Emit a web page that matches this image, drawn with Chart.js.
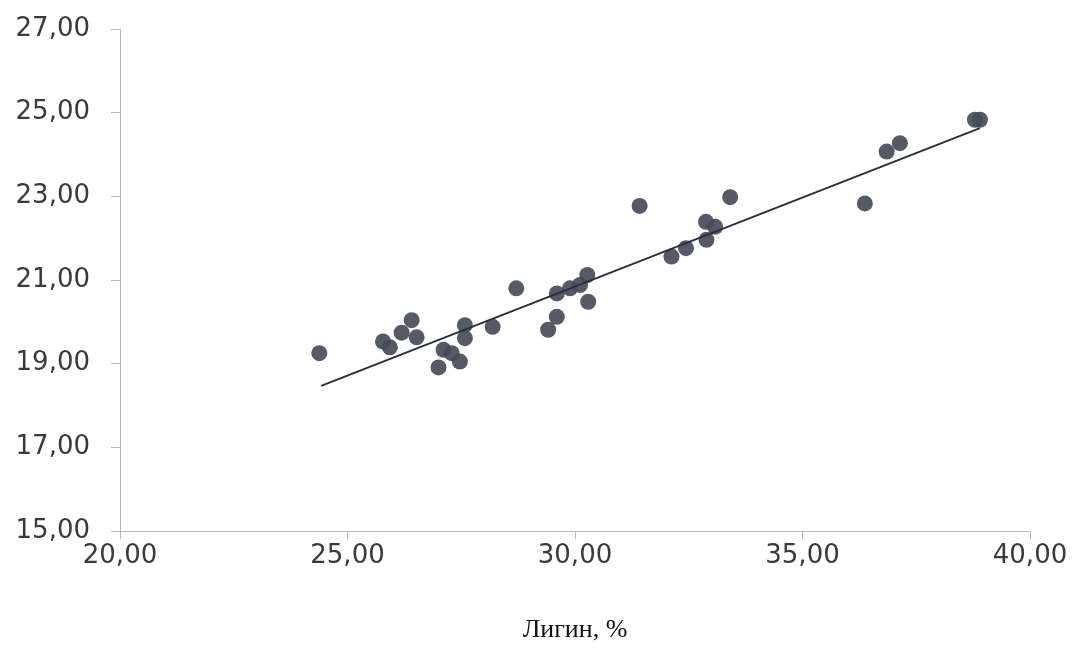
<!DOCTYPE html>
<html>
<head>
<meta charset="utf-8">
<script src="https://cdn.jsdelivr.net/npm/chart.js@4/dist/chart.umd.min.js"></script>
<style>
  html, body { margin: 0; padding: 0; background: #fff; }
  #wrap { width: 1072px; height: 654px; }
</style>
</head>
<body>
<div id="wrap"><canvas id="chart" width="1072" height="654"></canvas></div>
<script>
// values
const ligninX = [24.38, 25.78, 25.93, 26.19, 26.41, 26.52, 27.00, 27.11, 27.29, 27.47,
                 27.58, 27.58, 28.19, 28.71, 29.41, 29.60, 29.60, 29.89, 30.11, 30.27,
                 30.29, 31.42, 32.12, 32.44, 32.88, 32.89, 33.08, 33.41, 36.37, 36.85,
                 37.14, 38.79, 38.90];
const valueY  = [19.25, 19.53, 19.39, 19.74, 20.04, 19.63, 18.91, 19.33, 19.25, 19.05,
                 19.92, 19.61, 19.88, 20.80, 19.81, 20.12, 20.68, 20.80, 20.88, 21.12,
                 20.48, 22.77, 21.56, 21.76, 22.39, 21.96, 22.27, 22.98, 22.83, 24.07,
                 24.27, 24.83, 24.83];

const trendX = [24.42, 38.90];
const trendY = [18.47, 24.63];

const xTitle = "Лигин, %";

const fmt = v => v.toFixed(2).replace(".", ",");

const points = ligninX.map((x, i) => ({ x, y: valueY[i] }));
const trend = trendX.map((x, i) => ({ x, y: trendY[i] }));

const tickFont = { family: "DejaVu Sans", size: 26 };

new Chart(document.getElementById("chart"), {
    type: "scatter",
    data: {
        datasets: [
            {
                label: "points",
                data: points,
                pointRadius: 8,
                pointHoverRadius: 8,
                pointBackgroundColor: "rgba(72,76,90,0.92)",
                pointBorderColor: "rgba(72,76,90,0.92)",
                pointBorderWidth: 0,
                order: 2
            },
            {
                label: "trend",
                type: "line",
                data: trend,
                borderColor: "#2b2f38",
                borderWidth: 2,
                pointRadius: 0,
                fill: false,
                order: 1
            }
        ]
    },
    options: {
        responsive: false,
        animation: false,
        layout: { padding: { left: 0, top: 0, right: 42, bottom: 0 } },
        plugins: {
            legend: { display: false },
            tooltip: { enabled: false }
        },
        scales: {
            x: {
                type: "linear",
                min: 20, max: 40,
                border: { color: "#b8b8b8", width: 1 },
                grid: { drawOnChartArea: false, color: "#b8b8b8", tickLength: 8 },
                ticks: {
                    stepSize: 5,
                    color: "#3a3a3a",
                    font: tickFont,
                    padding: 2,
                    callback: v => fmt(v)
                },
                title: {
                    display: true,
                    text: xTitle,
                    color: "#111",
                    font: { family: "Liberation Serif", size: 26 },
                    padding: { top: 12, bottom: 8 }
                },
                afterFit: s => { s.height = 123; }
            },
            y: {
                type: "linear",
                min: 15, max: 27,
                border: { color: "#b8b8b8", width: 1 },
                grid: { drawOnChartArea: false, color: "#b8b8b8", tickLength: 9 },
                ticks: {
                    stepSize: 2,
                    color: "#3a3a3a",
                    font: tickFont,
                    padding: 21,
                    callback: v => fmt(v)
                },
                afterFit: s => { s.width = 120; s.paddingTop = 29; }
            }
        }
    }
});
</script>
</body>
</html>
